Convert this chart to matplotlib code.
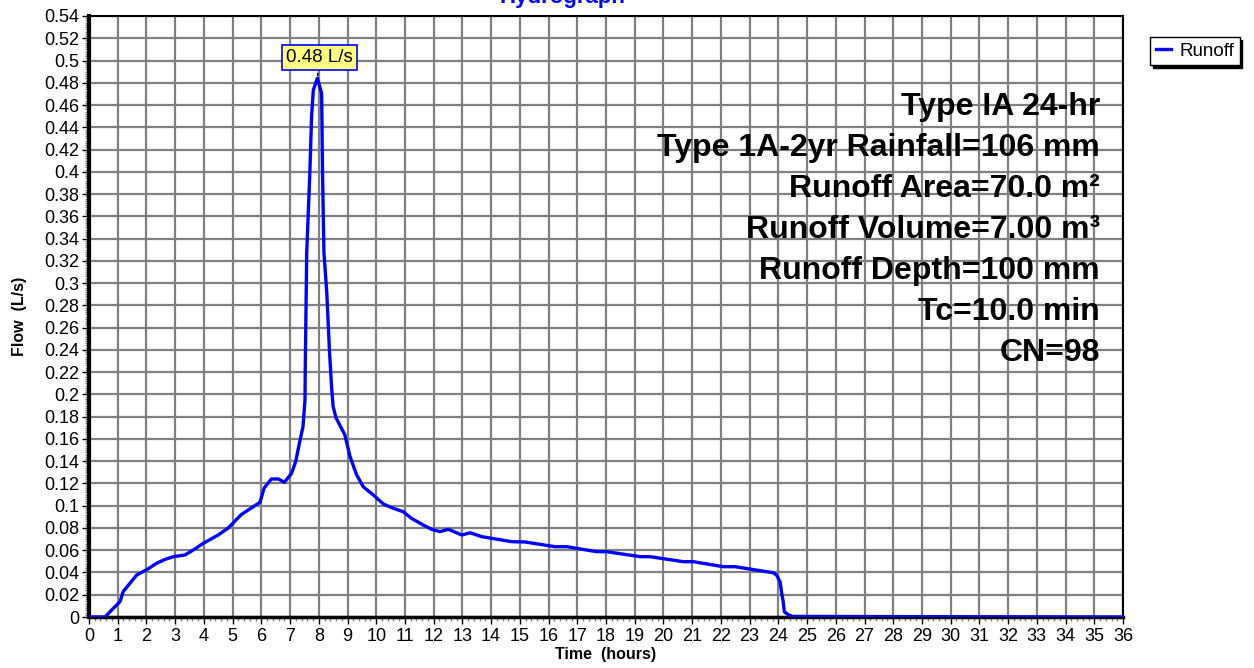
import matplotlib.pyplot as plt
from matplotlib.ticker import MultipleLocator, FuncFormatter

plt.rcParams['font.family'] = ['Liberation Sans', 'DejaVu Sans']

# hydrograph
time_hr = [0, 0.56, 0.79, 1.08, 1.19, 1.66, 2.03, 2.35, 2.65, 2.94, 3.34, 3.63, 3.98,
           4.5, 4.85, 5.3, 5.95, 6.1, 6.35, 6.6, 6.8, 7.05, 7.2, 7.3, 7.45, 7.52, 7.53,
           7.58, 7.69, 7.75, 7.81, 7.95, 8.10, 8.13, 8.18, 8.28, 8.37, 8.45, 8.5, 8.6,
           8.91, 9.09, 9.32, 9.55, 9.9, 10.25, 10.6, 10.94, 11.23, 11.64, 11.93, 12.22,
           12.51, 12.98, 13.27, 13.67, 14.02, 14.71, 15.18, 16.22, 16.63, 17.67, 18.02,
           19.19, 19.53, 20.69, 21.04, 22.08, 22.49, 23.82, 23.94, 24.06, 24.12, 24.17,
           24.21, 24.35, 24.5, 36]
flow_ls = [0, 0, 0.0063, 0.0138, 0.0228, 0.0377, 0.0428, 0.0482, 0.0518, 0.0542, 0.0557,
           0.0602, 0.0662, 0.0737, 0.080, 0.092, 0.103, 0.116, 0.124, 0.124, 0.121, 0.129,
           0.140, 0.153, 0.171, 0.195, 0.225, 0.327, 0.400, 0.450, 0.4735, 0.484, 0.4705,
           0.400, 0.327, 0.291, 0.240, 0.205, 0.189, 0.179, 0.1635, 0.144, 0.1276, 0.117,
           0.1096, 0.1015, 0.0976, 0.0946, 0.0886, 0.0826, 0.0788, 0.0767, 0.0788, 0.0737,
           0.0757, 0.0722, 0.0707, 0.0677, 0.0674, 0.0632, 0.0632, 0.0587, 0.0587, 0.0542,
           0.0542, 0.0497, 0.0497, 0.0452, 0.0452, 0.0398, 0.0377, 0.0317, 0.021, 0.0137,
           0.0047, 0.002, 0.0005, 0]

peak_time = 7.95
peak_flow = 0.484
peak_label = '0.48 L/s'

info_lines = ['Type IA 24-hr',
              'Type 1A-2yr Rainfall=106 mm',
              'Runoff Area=70.0 m²',
              'Runoff Volume=7.00 m³',
              'Runoff Depth=100 mm',
              'Tc=10.0 min',
              'CN=98']

W, H = 1254, 668
fig = plt.figure(figsize=(W / 100, H / 100), dpi=100)
ax = fig.add_axes([89 / W, 1 - 617 / H, (1123 - 89) / W, (617 - 16) / H])

ax.plot(time_hr, flow_ls, color='#0000ff', lw=2.4, label='Runoff', zorder=3,
        solid_joinstyle='round')

ax.set_xlim(0, 36)
ax.set_ylim(0, 0.54)
ax.xaxis.set_major_locator(MultipleLocator(1))
ax.xaxis.set_minor_locator(MultipleLocator(0.2))
ax.yaxis.set_major_locator(MultipleLocator(0.02))
ax.yaxis.set_minor_locator(MultipleLocator(0.002))
ax.yaxis.set_major_formatter(FuncFormatter(lambda v, p: ('%.2f' % v).rstrip('0').rstrip('.') if v else '0'))

ax.grid(True, which='major', color='#808080', lw=1.6, zorder=1)
ax.set_axisbelow(True)
ax.tick_params(which='major', length=5, width=1, labelsize=13, color='black')
ax.tick_params(which='minor', length=3, width=1, color='#808080')
ax.tick_params(axis='x', which='major', pad=3)
ax.tick_params(axis='y', which='major', pad=2)

ax.spines['left'].set_linewidth(3)
ax.spines['bottom'].set_linewidth(2.5)
ax.spines['top'].set_linewidth(1.5)
ax.spines['right'].set_linewidth(1.5)

ax.set_xlabel('Time  (hours)', fontsize=11.5, fontweight='bold', labelpad=1)
ax.set_ylabel('Flow  (L/s)', fontsize=11.5, fontweight='bold', labelpad=12)

fig.text(562 / W, 1 - 3 / H, 'Hydrograph', color='#0000ff', fontsize=16,
         fontweight='bold', ha='center', va='baseline')

ax.annotate(peak_label, xy=(peak_time, peak_flow), xytext=(8.02, 0.503),
            ha='center', va='center', fontsize=13.5,
            bbox=dict(boxstyle='square,pad=0.22', fc='#ffff80', ec='#0000ff', lw=1.2),
            arrowprops=dict(arrowstyle='-', color='black', lw=1), zorder=5)

y_px = 107
for line in info_lines:
    fig.text(1100 / W, 1 - y_px / H, line, fontsize=23, fontweight='bold',
             ha='right', va='center', zorder=6)
    y_px += 41

leg = fig.legend(loc='upper left', bbox_to_anchor=(1150 / W, 1 - 37 / H),
                 fontsize=13.5, frameon=True, fancybox=False, handlelength=0.8,
                 handletextpad=0.45, borderpad=0.3, borderaxespad=0,
                 shadow={'color': 'black', 'alpha': 1})
leg.get_frame().set_edgecolor('black')
leg.get_frame().set_linewidth(1)

fig.savefig('out.png', dpi=100)
